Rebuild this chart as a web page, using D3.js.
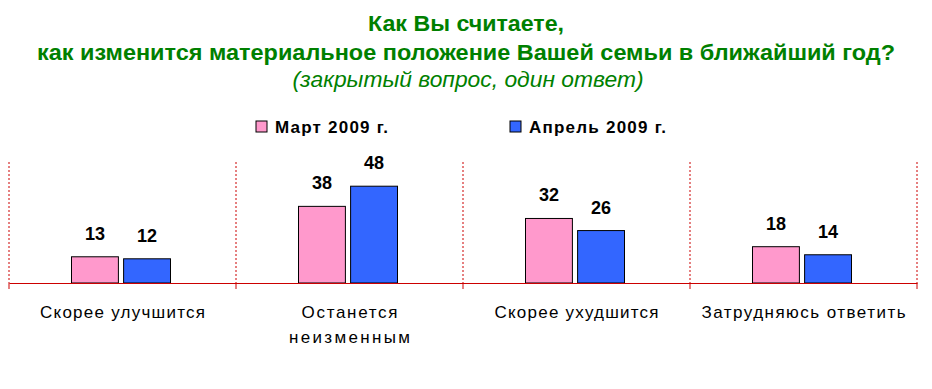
<!DOCTYPE html>
<html>
<head>
<meta charset="utf-8">
<script src="https://cdn.jsdelivr.net/npm/d3@7"></script>
<style>
  body { margin: 0; background: #fff; }
  text { font-family: "Liberation Sans", Arial, sans-serif; }
</style>
</head>
<body>
<div id="chart"></div>
<script>
const categories = [["Скорее улучшится"], ["Останется", "неизменным"], ["Скорее ухудшится"], ["Затрудняюсь ответить"]]
const seriesNames = ["Март 2009 г.", "Апрель 2009 г."]
const march = [13, 38, 32, 18]
const april = [12, 48, 26, 14]
const titleLines = ["Как Вы считаете,", "как изменится материальное положение Вашей семьи в ближайший год?"]
const subtitle = "(закрытый вопрос, один ответ)"

const width = 932, height = 389
const margin = ({top: 162, right: 15, bottom: 106, left: 9})
const colors = ["#ff99cc", "#3366ff"]

// measured text widths in the picture (stretched to fit)
const titleW = [196, 858]
const catW = {"Скорее улучшится": 165, "Останется": 96, "неизменным": 121, "Скорее ухудшится": 164, "Затрудняюсь ответить": 204}
const legendW = [113, 137]

const svg = d3.select('#chart')
  .append('svg')
    .attr('width', width)
    .attr('height', height)

const x = d3.scaleBand()
    .domain(d3.range(categories.length))
    .range([margin.left, width - margin.right])

const y = d3.scaleLinear()
    .domain([0, 60])
    .range([height - margin.bottom, margin.top])

const xs = d3.scaleBand()
    .domain([0, 1])
    .range([0, 99])
    .paddingInner(0.1)

// title
svg.selectAll('text.title')
  .data(titleLines)
  .join('text')
    .attr('class', 'title')
    .attr('x', width / 2)
    .attr('y', (d, i) => 31 + i * 29)
    .attr('text-anchor', 'middle')
    .attr('fill', '#008000')
    .attr('font-weight', 'bold')
    .attr('font-size', 22)
    .attr('textLength', (d, i) => titleW[i])
    .attr('lengthAdjust', 'spacingAndGlyphs')
    .text(d => d)

svg.append('text')
    .attr('x', width / 2 + 2)
    .attr('y', 87)
    .attr('text-anchor', 'middle')
    .attr('fill', '#008000')
    .attr('font-style', 'italic')
    .attr('font-size', 22)
    .attr('textLength', 351)
    .attr('lengthAdjust', 'spacingAndGlyphs')
    .text(subtitle)

// legend
const legendX = [256, 510]
const legend = svg.selectAll('g.legend')
  .data(seriesNames)
  .join('g')
    .attr('class', 'legend')
    .attr('transform', (d, i) => `translate(${legendX[i]}, 121)`)
legend.append('rect')
    .attr('width', 11)
    .attr('height', 11)
    .attr('fill', (d, i) => colors[i])
    .attr('stroke', '#000')
legend.append('text')
    .attr('x', 19)
    .attr('y', 12)
    .attr('font-weight', 'bold')
    .attr('font-size', 17)
    .attr('textLength', (d, i) => legendW[i])
    .attr('lengthAdjust', 'spacing')
    .text(d => d)

// grid: dotted verticals at category boundaries
const bounds = d3.range(categories.length + 1).map(i => i < categories.length ? x(i) : x(i - 1) + x.bandwidth())
svg.selectAll('line.grid')
  .data(bounds)
  .join('line')
    .attr('class', 'grid')
    .attr('x1', d => d).attr('x2', d => d)
    .attr('y1', y(60)).attr('y2', y(0))
    .attr('stroke', '#cc0000')
    .attr('stroke-width', 1)
    .attr('stroke-dasharray', '2,2')

// bars
const data = categories.map((c, i) => [march[i], april[i]])
const groups = svg.selectAll('g.cat')
  .data(data)
  .join('g')
    .attr('class', 'cat')
    .attr('transform', (d, i) => `translate(${x(i) + x.bandwidth() / 2 - 51}, 0)`)

groups.selectAll('rect')
  .data(d => d)
  .join('rect')
    .attr('x', (d, j) => xs(j))
    .attr('y', d => y(d))
    .attr('width', xs.bandwidth())
    .attr('height', d => y(0) - y(d))
    .attr('fill', (d, j) => colors[j])
    .attr('stroke', '#000')
    .attr('stroke-width', 1)

groups.selectAll('text')
  .data(d => d)
  .join('text')
    .attr('x', (d, j) => xs(j) + xs.bandwidth() / 2)
    .attr('y', d => y(d) - 17)
    .attr('text-anchor', 'middle')
    .attr('font-weight', 'bold')
    .attr('font-size', 18)
    .text(d => d)

// x axis
svg.append('g')
    .attr('transform', `translate(0, ${y(0)})`)
    .call(d3.axisBottom(x).tickValues([]).tickSizeOuter(0))
    .call(g => g.select('.domain').attr('stroke', '#cc0000'))
svg.selectAll('line.tick')
  .data(bounds)
  .join('line')
    .attr('class', 'tick')
    .attr('x1', d => d).attr('x2', d => d)
    .attr('y1', y(0)).attr('y2', y(0) + 6)
    .attr('stroke', '#cc0000')

svg.selectAll('text.cat')
  .data(categories)
  .join('text')
    .attr('class', 'cat')
    .attr('x', (d, i) => x(i) + x.bandwidth() / 2)
    .attr('y', 318)
    .attr('text-anchor', 'middle')
    .attr('font-size', 17)
    .attr('fill', '#000')
  .selectAll('tspan')
  .data(d => d)
  .join('tspan')
    .attr('x', function() { return this.parentNode.getAttribute('x') })
    .attr('dy', (d, i) => i ? 25 : 0)
    .attr('textLength', d => catW[d])
    .attr('lengthAdjust', 'spacing')
    .text(d => d)
</script>
</body>
</html>
